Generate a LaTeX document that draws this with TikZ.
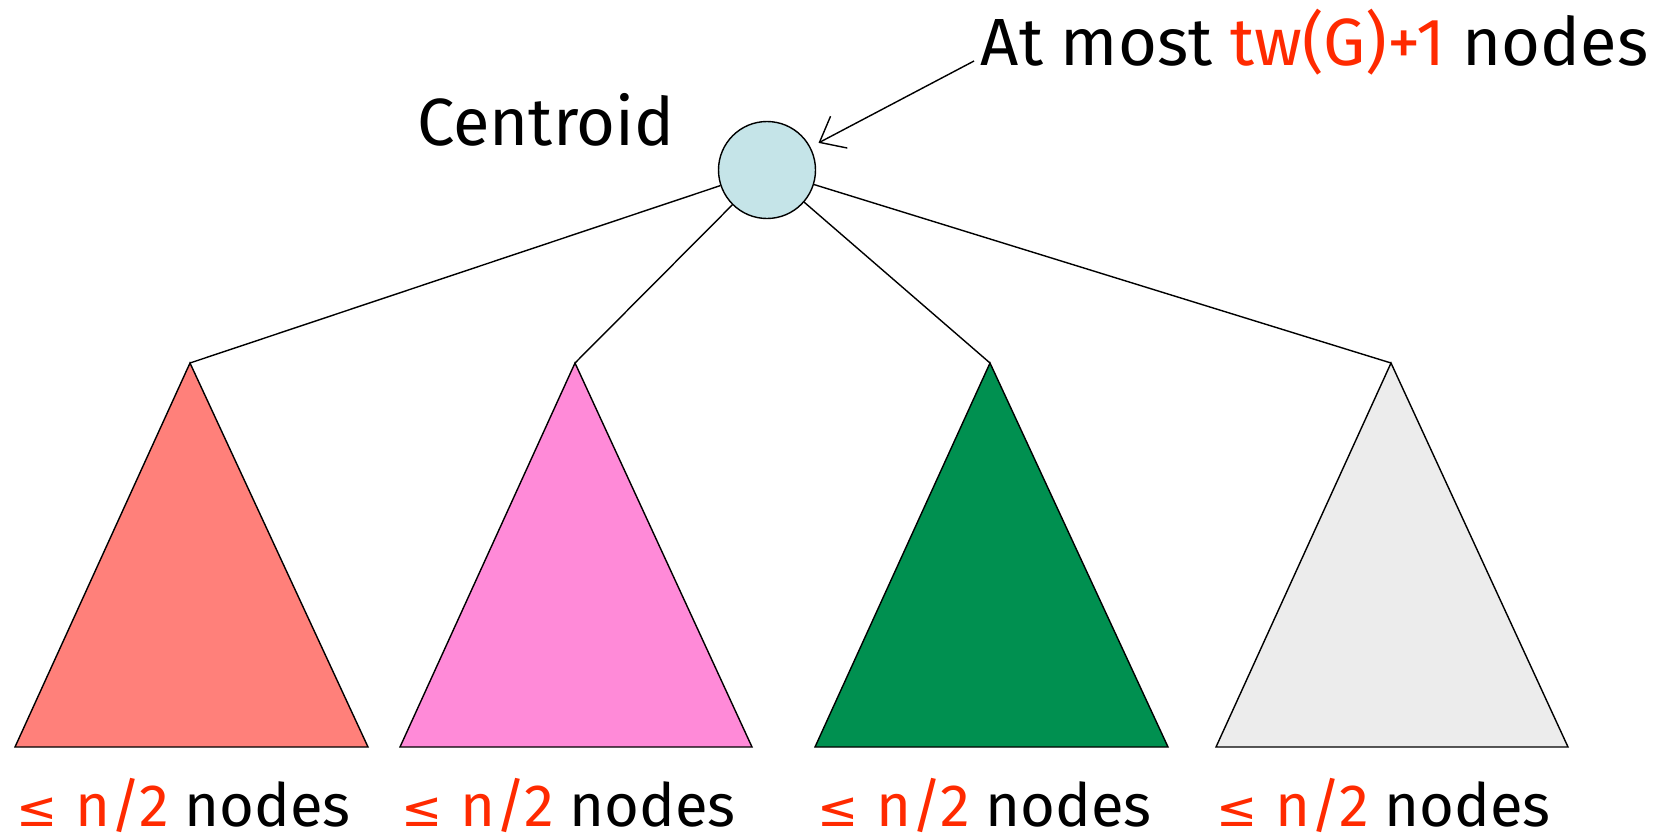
\documentclass[tikz,border=0pt]{standalone}
\usepackage{fontspec}
\setmainfont{Fira Sans}
\newfontfamily\symfont{DejaVu Sans}
\usetikzlibrary{arrows.meta}

\definecolor{hotred}{RGB}{255,42,0}
\definecolor{treeA}{RGB}{255,128,122}
\definecolor{treeB}{RGB}{255,138,216}
\definecolor{treeC}{RGB}{0,144,80}
\definecolor{treeD}{RGB}{236,236,236}
\definecolor{rootblue}{RGB}{197,228,232}

\newcommand{\half}{{\color{hotred}{\symfont\fontsize{14}{16}\selectfont ≤}\hspace{0.3em}n/2} nodes}

\tikzset{
  rootnode/.style={circle,draw,fill=rootblue,minimum size=0.97cm,inner sep=0pt},
  word/.style={font=\fontsize{19}{23}\selectfont,inner sep=0pt},
  small word/.style={font=\fontsize{17}{20}\selectfont,inner sep=1pt},
  subtree/.style={draw,line join=miter},
  pointer/.style={-{Straight Barb[length=0.22cm,width=0.36cm]},shorten >=0.09cm}
}

\begin{document}
\begin{tikzpicture}
  \useasboundingbox (0,0) rectangle (16.66,8.36);

  % the centroid bag and its labels
  \node[rootnode] (cent) at (7.67,6.66) {};
  \node[word] (cname) at (5.46,7.16) {Centroid};
  \node[word,anchor=east] (bound) at (16.49,7.94)
    {At most {\color{hotred}tw(G)+1} nodes};
  \coordinate (tail) at (9.74,7.75);
  \draw[pointer] (tail) -- (cent);

  % four subtrees hanging below
  \coordinate (t1) at (1.90,4.73);
  \coordinate (t2) at (5.75,4.73);
  \coordinate (t3) at (9.90,4.73);
  \coordinate (t4) at (13.91,4.73);
  \draw[subtree,fill=treeA] (t1) -- (0.15,0.89) -- (3.68,0.89) -- cycle;
  \draw[subtree,fill=treeB] (t2) -- (4.00,0.89) -- (7.52,0.89) -- cycle;
  \draw[subtree,fill=treeC] (t3) -- (8.15,0.89) -- (11.68,0.89) -- cycle;
  \draw[subtree,fill=treeD] (t4) -- (12.16,0.89) -- (15.68,0.89) -- cycle;
  \foreach \t in {t1,t2,t3,t4}
    \draw (cent) -- (\t);

  % sizes of the subtrees
  \node[small word,anchor=west] (s1) at (0.12,0.31) {\half};
  \node[small word,anchor=west] (s2) at (3.97,0.31) {\half};
  \node[small word,anchor=west] (s3) at (8.13,0.31) {\half};
  \node[small word,anchor=west] (s4) at (12.12,0.31) {\half};
\end{tikzpicture}
\end{document}
